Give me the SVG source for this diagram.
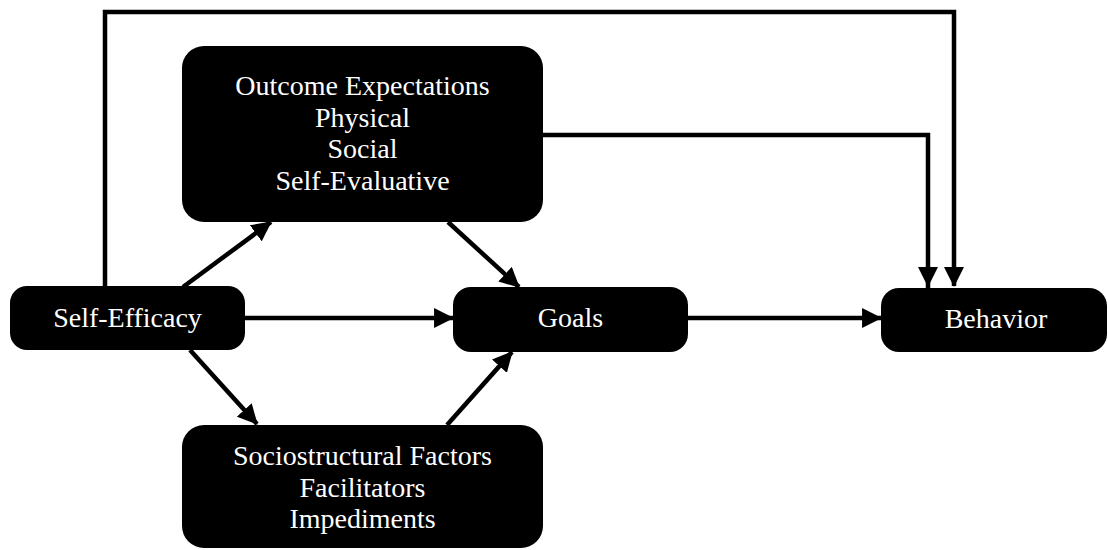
<svg xmlns="http://www.w3.org/2000/svg" width="1108" height="550" viewBox="0 0 1108 550">
<style>
.box{fill:#000}
.lbl{fill:#fff;font-family:'Liberation Serif','Times New Roman','DejaVu Serif',serif;font-size:28px;text-anchor:middle}
.con{fill:none;stroke:#000;stroke-width:4.5}
</style>
<defs>
<marker id="ah" markerUnits="userSpaceOnUse" markerWidth="20" markerHeight="20" viewBox="0 0 19 19" refX="18" refY="9.5" orient="auto">
<path d="M0,0 L19,9.5 L0,19 z" fill="#000"/>
</marker>
</defs>
<rect width="1108" height="550" fill="#fff"/>
<g id="connectors">
<path class="con" d="M105,287 L105,12 L954,12 L954,286" marker-end="url(#ah)"/>
<path class="con" d="M543,135 L928,135 L928,286" stroke-linecap="square" marker-end="url(#ah)"/>
<path class="con" d="M183,287 L271,222" marker-end="url(#ah)"/>
<path class="con" d="M448,222 L519,287" marker-end="url(#ah)"/>
<path class="con" d="M245,318 L453,318" marker-end="url(#ah)"/>
<path class="con" d="M190,350 L257,424" marker-end="url(#ah)"/>
<path class="con" d="M447,425 L512,352" marker-end="url(#ah)"/>
<path class="con" d="M688,318 L881,318" marker-end="url(#ah)"/>
</g>
<g id="self-efficacy">
<rect class="box" x="10" y="286" width="235" height="64" rx="17"/>
<text class="lbl" font-family="Liberation Serif, serif" x="127.5" y="327">Self-Efficacy</text>
</g>
<g id="outcome-expectations">
<rect class="box" x="182" y="46" width="361" height="176" rx="22"/>
<text class="lbl" font-family="Liberation Serif, serif" x="362.5" y="95">Outcome Expectations</text>
<text class="lbl" font-family="Liberation Serif, serif" x="362.5" y="127">Physical</text>
<text class="lbl" font-family="Liberation Serif, serif" x="362.5" y="158">Social</text>
<text class="lbl" font-family="Liberation Serif, serif" x="362.5" y="190">Self-Evaluative</text>
</g>
<g id="goals">
<rect class="box" x="453" y="287" width="235" height="65" rx="18"/>
<text class="lbl" font-family="Liberation Serif, serif" x="570.5" y="327">Goals</text>
</g>
<g id="behavior">
<rect class="box" x="881" y="288" width="226" height="64" rx="18"/>
<text class="lbl" font-family="Liberation Serif, serif" x="996" y="328">Behavior</text>
</g>
<g id="sociostructural-factors">
<rect class="box" x="182" y="425" width="361" height="123" rx="22"/>
<text class="lbl" font-family="Liberation Serif, serif" x="362.5" y="465">Sociostructural Factors</text>
<text class="lbl" font-family="Liberation Serif, serif" x="362.5" y="497">Facilitators</text>
<text class="lbl" font-family="Liberation Serif, serif" x="362.5" y="528">Impediments</text>
</g>
</svg>
